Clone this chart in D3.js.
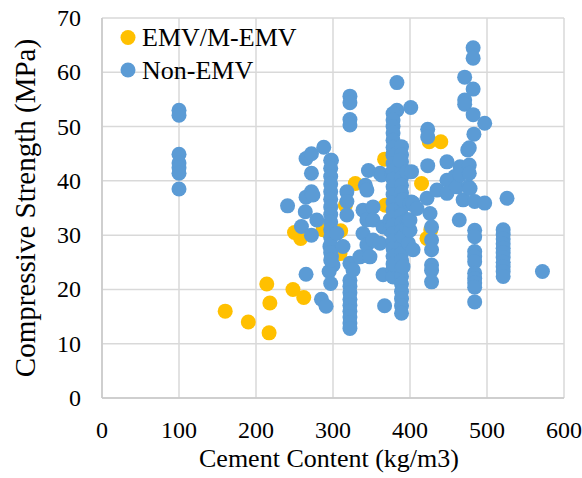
<!DOCTYPE html>
<html>
<head>
<meta charset="utf-8">
<script src="https://cdn.jsdelivr.net/npm/d3@7"></script>
</head>
<body style="margin:0">
<div id="chart"></div>
<script>
// series: EMV/M-EMV (orange)
var emvCement   = [160, 190, 217, 214, 218, 248, 262, 250, 258, 287, 310, 309, 316, 329, 367, 368, 415, 427, 422, 425, 440];
var emvStrength = [16, 14, 12, 21, 17.5, 20, 18.5, 30.5, 29.4, 31, 30.8, 26.6, 35.5, 39.5, 44, 35.5, 39.5, 31, 29.4, 47.2, 47.2];

// series: Non-EMV (blue)
var nonCement = [
  100, 100, 100, 100, 100, 100, 100,
  241, 259, 264, 265, 272, 274, 265, 272, 288, 298, 272, 272, 279, 265, 285, 291, 296, 300, 295, 297, 298,
  297, 297, 297, 297, 297, 297, 297, 297, 297, 297, 297, 297, 297, 297, 305,
  318, 318, 318, 313, 322, 322, 322, 322,
  322, 322, 322, 322, 322, 322, 322, 322, 322, 322, 326,
  339, 339, 335, 342, 344, 344, 344, 346, 348, 352, 352, 352, 361, 363, 361, 365, 365, 367, 374, 374, 376, 378, 378, 378, 378, 383, 383, 383, 385, 383, 383,
  378, 378, 378, 378, 378, 378, 378, 378, 378, 378, 378, 378, 378, 378, 378, 378, 378, 378, 378, 378, 378,
  389, 389, 389, 389, 389, 389, 389, 389, 389, 389, 389, 389, 389, 389, 389, 389, 389, 389, 389, 389, 389, 389, 389,
  387, 391, 391, 391, 396, 396, 396, 398, 398, 400, 400, 400, 401, 402, 402, 404, 404, 409,
  422, 423, 423, 423, 426,
  428, 428, 428, 428, 428, 428,
  435, 448, 448, 448, 458, 461, 464, 465, 465, 469, 475, 476, 477, 477, 477, 478, 484, 497, 526, 572,
  482, 482, 471, 482, 471, 471, 482, 497, 483,
  484, 484, 484, 484, 484, 484, 484, 484, 484, 484,
  521, 521, 521, 521, 521, 521, 521, 521, 521, 521, 521
];
var nonStrength = [
  53, 52.1, 44.9, 43.3, 42.4, 41.4, 38.5,
  35.4, 31.6, 34.3, 37, 38, 37.4, 44.1, 45, 46.2, 43.8, 41.4, 30, 32.8, 22.8, 18.2, 16.9, 27.9, 24.5, 23.3, 21.1, 26,
  43.8, 42.3, 40.8, 39.4, 38, 36.6, 35.2, 33.8, 32.4, 31, 29.6, 28.2, 26.8, 25.4, 30.3,
  38, 36.2, 33.7, 27.9, 55.6, 54.4, 51.3, 50.3,
  21.7, 20.6, 19.4, 18.2, 17.1, 16, 14.9, 13.8, 12.8, 24.8, 23.6,
  34.6, 30.3, 26, 39.2, 38.3, 32.8, 28.2, 41.9, 26, 35.2, 32.8, 29.1, 41.4, 41.1, 28.5, 31.5, 22.7, 17, 32.8, 30.9, 41.4, 45, 32.5, 23.6, 22.3, 38.9, 29.1, 24.2, 38.9, 58.1, 53,
  52.4, 51.2, 50, 48.8, 47.5, 46.2, 44.7, 43.2, 41.8, 40.3, 38.9, 37.5, 36, 34.6, 33.2, 31.8, 30.3, 28.9, 27.5, 26.1, 24.7,
  46.3, 44.8, 43.5, 42, 40.6, 39.2, 37.8, 36.5, 35.1, 33.7, 32.2, 30.8, 29.5, 28, 26.6, 25.3, 23.8, 22.4, 21, 19.6, 18.3, 17, 15.6,
  43.8, 36.5, 29.7, 24.2, 41.7, 32.8, 31.5, 32.8, 28.5, 35.8, 30.9, 32.8, 53.5, 41.7, 36.1, 35.9, 27.3, 34.9,
  36.8, 49.5, 48.1, 42.8, 34,
  31.5, 29.1, 27.3, 24.5, 23.5, 21.4,
  38.3, 43.5, 40.1, 37.7, 40.8, 38.9, 32.8, 42.6, 41.1, 36.5, 45.7, 38.9, 46.1, 42.9, 41.4, 38.6, 36.2, 35.9, 36.8, 23.3,
  64.5, 62.6, 59.1, 56.9, 54.9, 54.1, 52.2, 50.6, 48.6,
  30.9, 29.7, 27, 26, 25.1, 23, 22, 21.2, 20.4, 17.7,
  31, 30.1, 29.3, 28.4, 27.6, 26.8, 25.9, 25, 24.2, 23.3, 22.4
];

var xTicks = [0, 100, 200, 300, 400, 500, 600];
var yTicks = [0, 10, 20, 30, 40, 50, 60, 70];
var seriesNames = ["EMV/M-EMV", "Non-EMV"];
var COLORS = ["#FFC000", "#5B9BD5"];

var FONT = '"Liberation Serif"';
var W = 582, H = 478;
var R = 7.5;

var svg = d3.select('#chart').append('svg')
    .attr('width', W)
    .attr('height', H);

svg.append('rect').attr('width', W).attr('height', H).attr('fill', '#fff');

var x = d3.scaleLinear().domain([0, 600]).range([102, 564]);
var y = d3.scaleLinear().domain([0, 70]).range([398, 18]);

function label(sel, size) {
    return sel.style('font-family', FONT).attr('font-size', size).attr('fill', '#000');
}

// gridlines
var grid = svg.append('g').attr('class', 'grid');
grid.selectAll('.vg').data(xTicks).enter().append('line')
    .attr('x1', function(d){ return x(d); }).attr('x2', function(d){ return x(d); })
    .attr('y1', y(0)).attr('y2', y(70))
    .attr('stroke', '#D9D9D9').attr('stroke-width', 1.5);
grid.selectAll('.hg').data(yTicks).enter().append('line')
    .attr('x1', x(0)).attr('x2', x(600))
    .attr('y1', function(d){ return y(d); }).attr('y2', function(d){ return y(d); })
    .attr('stroke', '#D9D9D9').attr('stroke-width', 1.5);

// axis lines
svg.append('line').attr('x1', x(0)).attr('x2', x(600)).attr('y1', y(0)).attr('y2', y(0))
    .attr('stroke', '#C8C8C8').attr('stroke-width', 1.5);
svg.append('line').attr('x1', x(0)).attr('x2', x(0)).attr('y1', y(0)).attr('y2', y(70))
    .attr('stroke', '#C8C8C8').attr('stroke-width', 1.5);

// tick labels
svg.selectAll('.xt').data(xTicks).enter().append('text')
    .attr('x', function(d){ return x(d); }).attr('y', 438)
    .attr('text-anchor', 'middle')
    .call(label, 24)
    .text(function(d){ return d; });

svg.selectAll('.yt').data(yTicks).enter().append('text')
    .attr('x', 81).attr('y', function(d){ return y(d) + 8; })
    .attr('text-anchor', 'end')
    .call(label, 24)
    .text(function(d){ return d; });

// axis titles
svg.append('text')
    .attr('x', 329).attr('y', 467)
    .attr('text-anchor', 'middle')
    .call(label, 26)
    .text('Cement Content (kg/m3)');

svg.append('text')
    .attr('transform', 'translate(35,208) rotate(-90)')
    .attr('text-anchor', 'middle')
    .call(label, 29)
    .text('Compressive Strength (MPa)');

// points: EMV first, Non-EMV on top
var emvPts = emvCement.map(function(c, i){ return [c, emvStrength[i]]; });
var nonPts = nonCement.map(function(c, i){ return [c, nonStrength[i]]; });

svg.append('g').selectAll('circle').data(emvPts).enter().append('circle')
    .attr('cx', function(d){ return x(d[0]); })
    .attr('cy', function(d){ return y(d[1]); })
    .attr('r', R)
    .attr('fill', COLORS[0]);

svg.append('g').selectAll('circle').data(nonPts).enter().append('circle')
    .attr('cx', function(d){ return x(d[0]); })
    .attr('cy', function(d){ return y(d[1]); })
    .attr('r', R)
    .attr('fill', COLORS[1]);

// legend
var legend = svg.append('g').selectAll('.legend').data(seriesNames).enter().append('g')
    .attr('transform', function(d, i){ return 'translate(128,' + (37.5 + i * 32.5) + ')'; });
legend.append('circle').attr('r', R).attr('fill', function(d, i){ return COLORS[i]; });
legend.append('text').attr('x', 14).attr('y', 8.5)
    .call(label, 26)
    .text(function(d){ return d; });
</script>
</body>
</html>
